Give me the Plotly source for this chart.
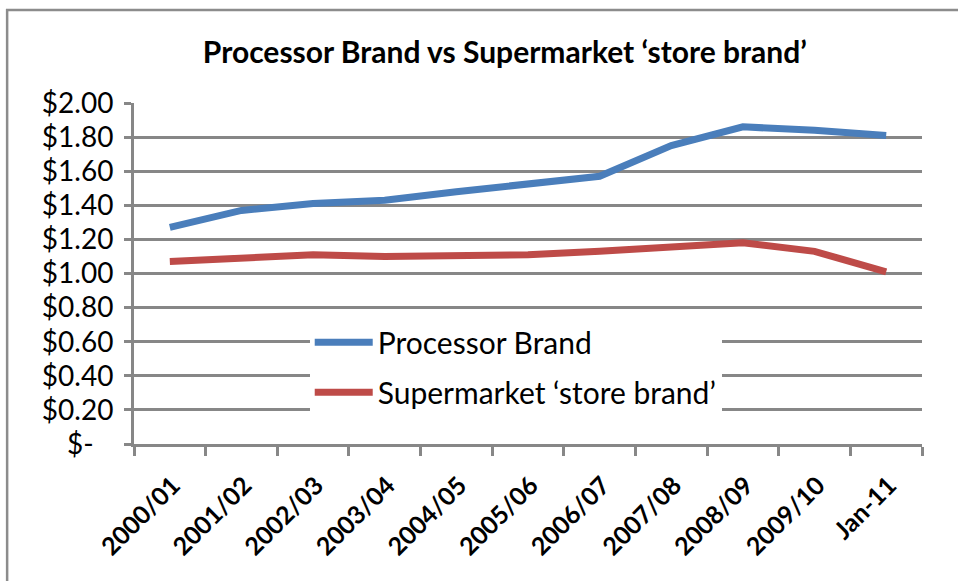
import plotly.graph_objects as go

# Average price per unit, financial years
periods = ["2000/01", "2001/02", "2002/03", "2003/04", "2004/05", "2005/06",
           "2006/07", "2007/08", "2008/09", "2009/10", "Jan-11"]
processor_brand = [1.27, 1.37, 1.41, 1.43, 1.48, 1.53, 1.57, 1.75, 1.86, 1.84, 1.81]
store_brand = [1.07, 1.09, 1.11, 1.10, 1.10, 1.11, 1.13, 1.16, 1.18, 1.13, 1.01]

y_ticks = [0, 0.2, 0.4, 0.6, 0.8, 1.0, 1.2, 1.4, 1.6, 1.8, 2.0]
# accounting style: zero shown as a dash, padded like the decimals
y_tick_text = ["$-\u2007\u2009"] + [f"${v:.2f}" for v in y_ticks[1:]]

FONT = "Lato, 'Open Sans', sans-serif"
GRID = "#878787"

fig = go.Figure()
fig.add_trace(go.Scatter(x=periods, y=processor_brand, mode="lines",
                         name="Processor Brand", legendgroup="a",
                         line=dict(color="#4a7ebb", width=7)))
fig.add_trace(go.Scatter(x=periods, y=store_brand, mode="lines",
                         name="Supermarket \u2018store brand\u2019", legendgroup="b",
                         line=dict(color="#be4b48", width=7)))

fig.update_layout(
    width=958, height=581,
    margin=dict(l=134, r=36, t=103, b=137),
    paper_bgcolor="white", plot_bgcolor="white",
    font=dict(family=FONT, color="black"),
    title=dict(text="<b>Processor Brand vs Supermarket \u2018store brand\u2019</b>",
               x=0.527, xanchor="center", y=0.91, yanchor="middle",
               font=dict(size=30, family=FONT)),
    showlegend=True,
    legend=dict(x=0.223, y=0.375, xanchor="left", yanchor="top",
                bgcolor="white", borderwidth=0,
                font=dict(size=30, family=FONT),
                itemwidth=58, traceorder="grouped", tracegroupgap=8),
    shapes=[dict(type="rect", xref="paper", yref="paper",
                 x0=-0.161, y0=-0.6, x1=1.2, y1=1.2727,
                 line=dict(color="#8c8c8c", width=2.5), layer="below")],
)

fig.update_xaxes(
    type="category", range=[-0.5, 10.5],
    showgrid=False, showline=True, linecolor=GRID, linewidth=3,
    ticks="outside", ticklen=9, tickwidth=3, tickcolor=GRID,
    tickson="boundaries", tickangle=-45,
    ticklabelstandoff=14, ticklabelshift=3,
    tickfont=dict(size=25, family=FONT, weight="bold"),
)
fig.update_yaxes(
    range=[0, 2.0], tickvals=y_ticks, ticktext=y_tick_text,
    showgrid=True, gridcolor=GRID, gridwidth=3,
    showline=True, linecolor=GRID, linewidth=3,
    ticks="outside", ticklen=7, tickwidth=3, tickcolor=GRID,
    ticklabelstandoff=5,
    tickfont=dict(size=28, family=FONT), zeroline=False,
)

fig.write_html("out.html")
